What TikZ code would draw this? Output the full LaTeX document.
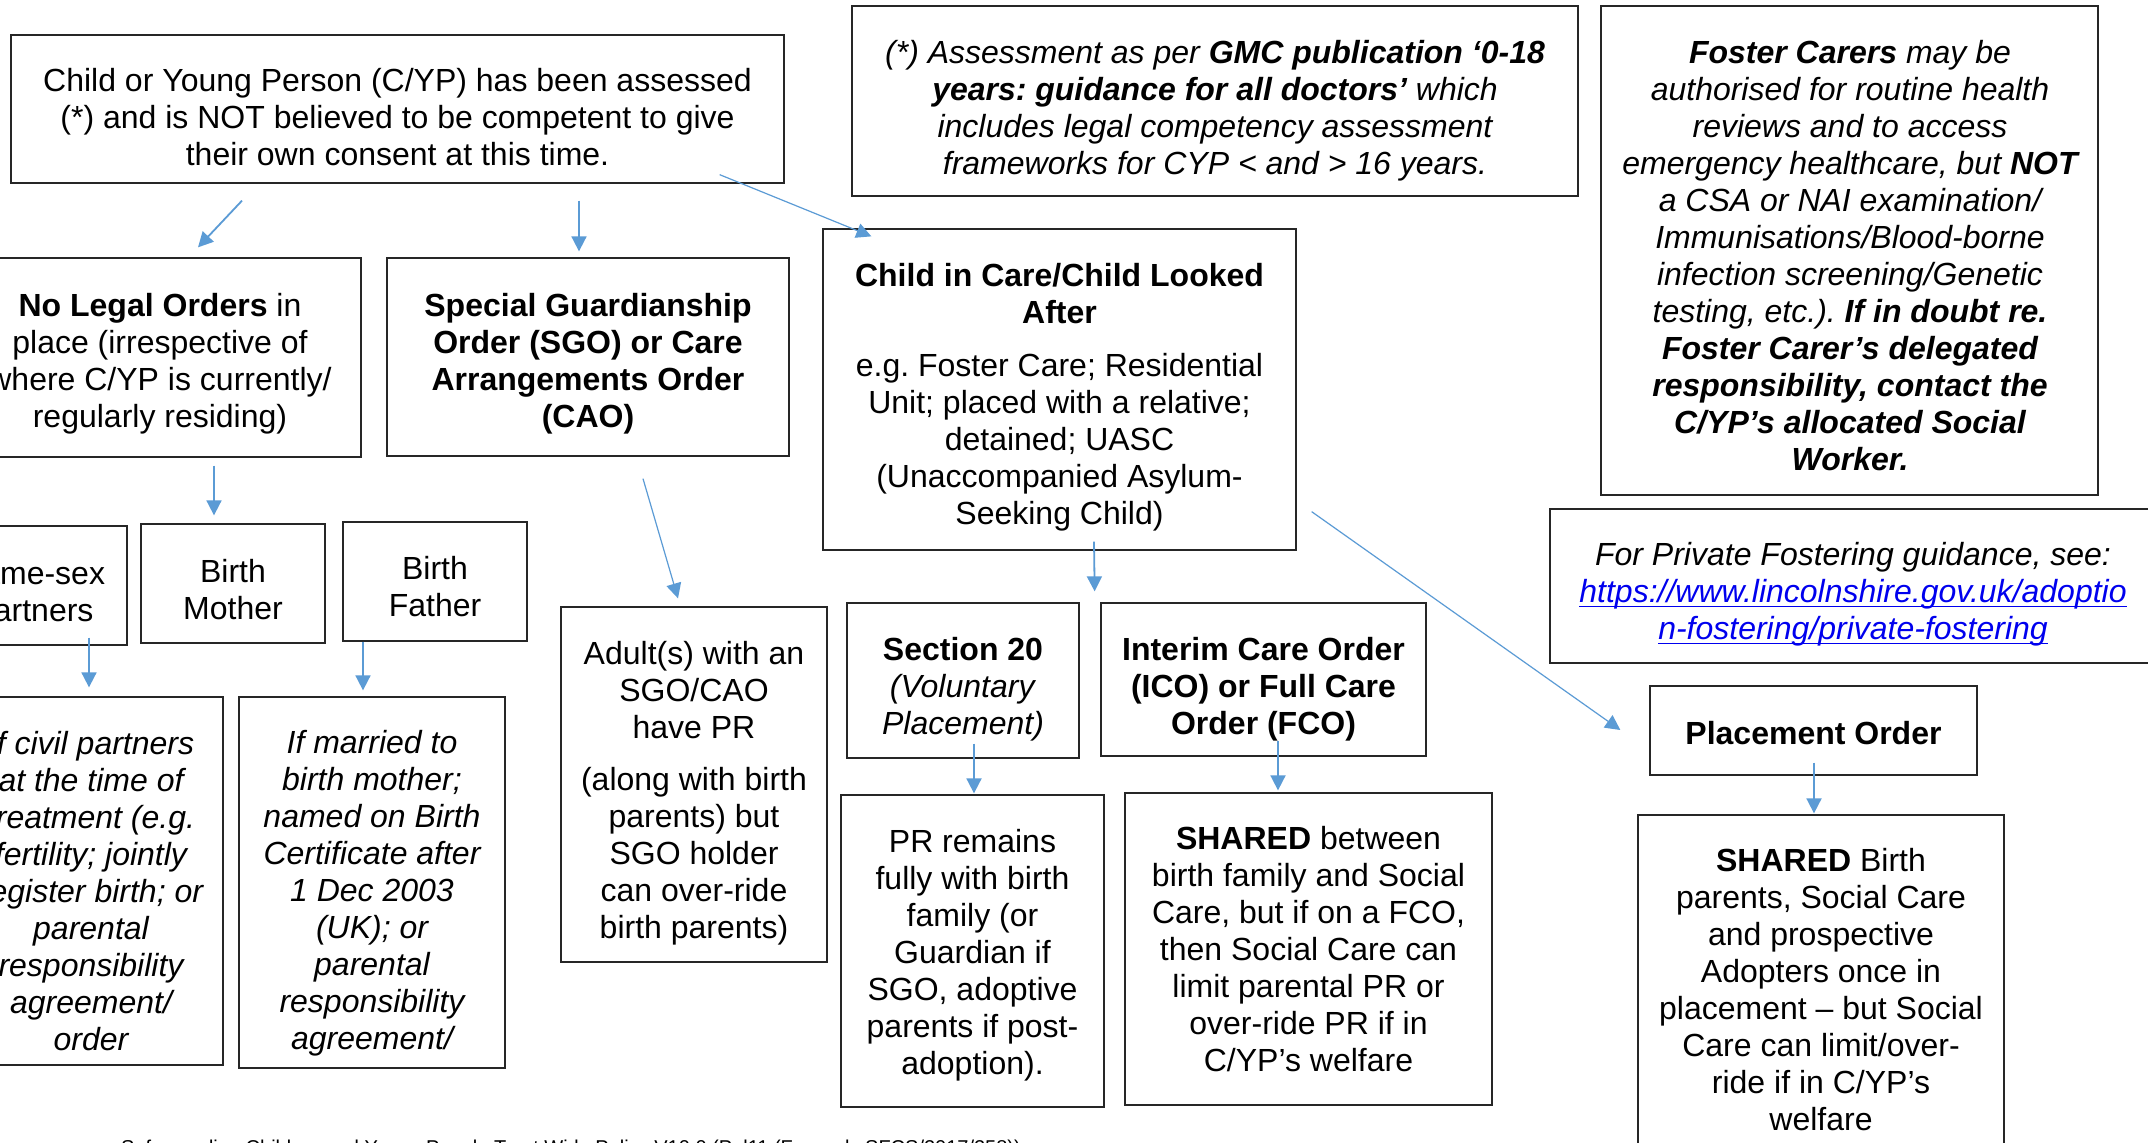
\documentclass[tikz,border=0pt]{standalone}
\usepackage{fontspec}
\setmainfont{Liberation Sans}
\usetikzlibrary{arrows.meta,calc,fit}
\definecolor{arrowblue}{RGB}{91,155,213}
\definecolor{linkblue}{RGB}{0,0,238}
\frenchspacing
% underlined hyperlink text: rule through the descenders, as word processors draw it
\newcommand{\linktext}[1]{\setbox0\hbox{#1}\rlap{\rule[-5pt]{\wd0}{1.5pt}}\box0}

\begin{document}
\begin{tikzpicture}[x=1pt,y=-1pt,
  box/.style={draw=black!85, line width=1.3pt, rectangle, inner sep=0pt},
  txt/.style={anchor=north, align=center, inner sep=0pt, font=\fontsize{32}{37}\selectfont},
  itxt/.style={txt, font=\fontsize{32}{37}\selectfont\itshape},
  btxt/.style={txt, font=\fontsize{32}{37}\selectfont\bfseries},
  arr/.style={draw=arrowblue, line width=1.8pt, -{Triangle[length=15pt,width=15pt]}},
  thinarr/.style={arr, line width=1.2pt},
]
\useasboundingbox (0,0) rectangle (2148,1143);
\clip (0,0) rectangle (2148,1143);
\fill[white] (0,0) rectangle (2148,1143);

% ---------- boxes ----------
\node[box, fit={(11,35) (784,183)}] (top) {};
\node[box, fit={(852,6) (1578,196)}] (gmc) {};
\node[box, fit={(1601,6) (2098,495)}] (foster) {};
\node[box, fit={(-40,258) (361,457)}] (nolegal) {};
\node[box, fit={(387,258) (789,456)}] (sgo) {};
\node[box, fit={(823,229) (1296,550)}] (cic) {};
\node[box, fit={(-61,526) (127,645)}] (samesex) {};
\node[box, fit={(141,524) (325,643)}] (mother) {};
\node[box, fit={(343,522) (527,641)}] (father) {};
\node[box, fit={(-41,697) (223,1065)}] (civil) {};
\node[box, fit={(239,697) (505,1068)}] (married) {};
\node[box, fit={(561,607) (827,962)}] (adults) {};
\node[box, fit={(847,603) (1079,758)}] (sec20) {};
\node[box, fit={(1101,603) (1426,756)}] (ico) {};
\node[box, fit={(841,795) (1104,1107)}] (prrem) {};
\node[box, fit={(1125,793) (1492,1105)}] (shared) {};
\node[box, fit={(1550,509) (2156,663)}] (private) {};
\node[box, fit={(1650,686) (1977,775)}] (placement) {};
\node[box, fit={(1638,815) (2004,1180)}] (sharedbirth) {};

% ---------- texts ----------
\node[txt] (topT) at (397.5,68) {Child or Young Person (C/YP) has been assessed\\(*) and is NOT believed to be competent to give\\their own consent at this time.};
\node[itxt] (gmcT) at (1215,40) {(*) Assessment as per \textbf{GMC publication ‘0-18}\\\textbf{years: guidance for all doctors’} which\\includes legal competency assessment\\frameworks for CYP < and > 16 years.};
\node[itxt] (fosterT) at (1850,40) {\textbf{Foster Carers} may be\\authorised for routine health\\reviews and to access\\emergency healthcare, but \textbf{NOT}\\a CSA or NAI examination/\\Immunisations/Blood-borne\\infection screening/Genetic\\testing, etc.). \textbf{If in doubt re.}\\\textbf{Foster Carer’s delegated}\\\textbf{responsibility, contact the}\\\textbf{C/YP’s allocated Social}\\\textbf{Worker.}};
\node[txt] (nolegalT) at (160,293) {\textbf{No Legal Orders} in\\place (irrespective of\\where C/YP is currently/\\regularly residing)};
\node[btxt] (sgoT) at (588,293) {Special Guardianship\\Order (SGO) or Care\\Arrangements Order\\(CAO)};
\node[txt] (cicT) at (1059.5,263) {\textbf{Child in Care/Child Looked}\\\textbf{After}\\[16pt]e.g. Foster Care; Residential\\Unit; placed with a relative;\\detained; UASC\\(Unaccompanied Asylum-\\Seeking Child)};
\node[txt] (samesexT) at (33,562) {Same-sex\\Partners};
\node[txt] (motherT) at (233,559) {Birth\\Mother};
\node[txt] (fatherT) at (435,556) {Birth\\Father};
\node[itxt] (civilT) at (91,731) {If civil partners\\at the time of\\treatment (e.g.\\fertility; jointly\\register birth; or\\parental\\responsibility\\agreement/\\order};
\node[itxt] (marriedT) at (372,730) {If married to\\birth mother;\\named on Birth\\Certificate after\\1 Dec 2003\\(UK); or\\parental\\responsibility\\agreement/};
\node[txt] (adultsT) at (694,641) {Adult(s) with an\\SGO/CAO\\have PR\\[15pt](along with birth\\parents) but\\SGO holder\\can over-ride\\birth parents)};
\node[txt] (sec20T) at (963,637) {\textbf{Section 20}\\\textit{(Voluntary}\\\textit{Placement)}};
\node[btxt] (icoT) at (1263.5,637) {Interim Care Order\\(ICO) or Full Care\\Order (FCO)};
\node[txt] (prremT) at (972.5,829) {PR remains\\fully with birth\\family (or\\Guardian if\\SGO, adoptive\\parents if post-\\adoption).};
\node[txt] (sharedT) at (1308.5,826) {\textbf{SHARED} between\\birth family and Social\\Care, but if on a FCO,\\then Social Care can\\limit parental PR or\\over-ride PR if in\\C/YP’s welfare};
\node[itxt] (privateT) at (1853,542) {For Private Fostering guidance, see:\\{\color{linkblue}\linktext{https://www.lincolnshire.gov.uk/adoptio}}\\{\color{linkblue}\linktext{n-fostering/private-fostering}}};
\node[btxt] (placementT) at (1813.5,721) {Placement Order};
\node[txt] (sharedbirthT) at (1821,848) {\textbf{SHARED} Birth\\parents, Social Care\\and prospective\\Adopters once in\\placement – but Social\\Care can limit/over-\\ride if in C/YP’s\\welfare};

% running footer of the page
\node[anchor=base west, inner sep=0pt, font=\fontsize{20}{24}\selectfont] (footer) at (121,1154) {Safeguarding Children and Young People Trust Wide Policy V10.0 (Pol11 (Formerly SFCS/2017/258))};

% ---------- connectors ----------
\draw[arr] ($(top.south)+(-155.5,17)$) -- ($(nolegal.north)+(37.5,-10)$);
\draw[arr] ($(top.south)+(181.5,17)$) -- ($(sgo.north)+(-9,-6)$);
\draw[thinarr] ($(top.south east)+(-65,-9)$) -- ($(cic.north west)+(49,8)$);
\draw[arr] ($(nolegal.south)+(53.5,8)$) -- ($(mother.north)+(-19,-8)$);
\draw[thinarr] ($(sgo.south)+(55,22)$) -- ($(adults.north)+(-16,-8)$);
\draw[arr] ($(samesex.south)+(56,-8)$) -- ($(civil.north)+(-2,-9)$);
\draw[arr] ($(father.south)+(-72,0)$) -- ($(married.north)+(-9,-6)$);
\draw[arr] ($(cic.south)+(34.5,-9)$) -- ($(sec20.north east)+(15,-11)$);
\draw[arr] ($(sec20.south)+(11,-15)$) -- ($(prrem.north)+(1.5,-1)$);
\draw[arr] ($(ico.south)+(14.5,-16)$) -- ($(shared.north)+(-30.5,-2)$);
\draw[thinarr] ($(cic.south east)+(15,-39)$) -- ($(placement.west)+(-29,-0.5)$);
\draw[arr] ($(placement.south)+(0.5,-13)$) -- ($(sharedbirth.north)+(-7,-1)$);
\end{tikzpicture}
\end{document}
